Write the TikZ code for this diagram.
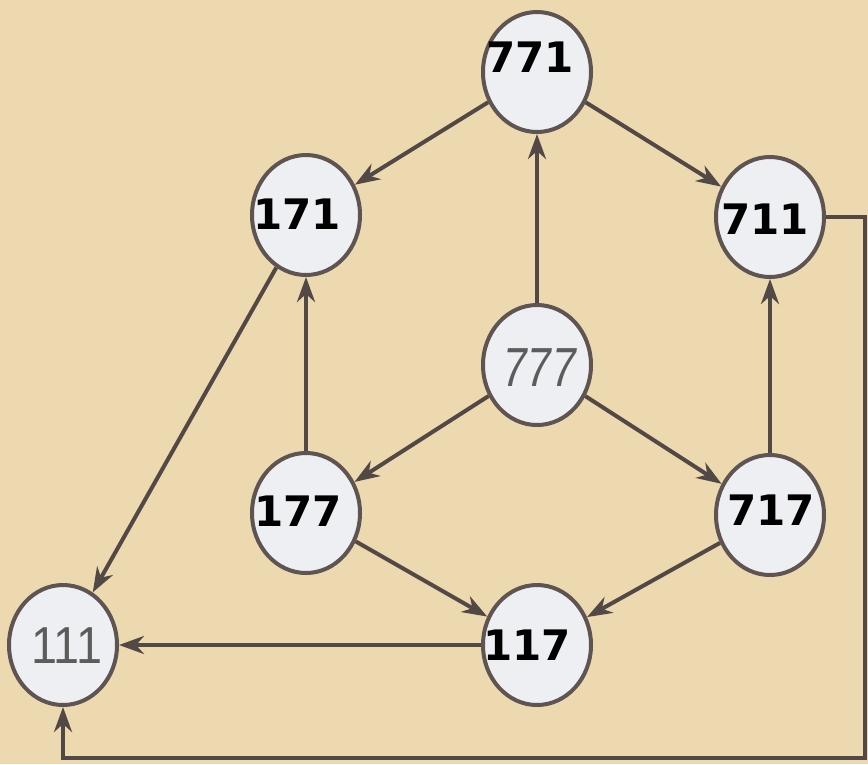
\documentclass[tikz,border=0pt]{standalone}
\usepackage{fontspec}
\setsansfont{DejaVu Sans}
\newfontfamily\grayfont[FakeStretch=0.8,FakeSlant=0.15]{Liberation Sans}
\newfontfamily\grayupfont[FakeStretch=0.9]{Liberation Sans}
\usepackage{tikz}
\usetikzlibrary{arrows.meta,shapes.geometric}
\definecolor{paper}{HTML}{EDD9AF}
\definecolor{disc}{HTML}{EEEFF3}
\definecolor{rim}{HTML}{5E5452}
\definecolor{ink}{HTML}{524846}
\definecolor{faded}{HTML}{5C5C5C}
\tikzset{
  state/.style={ellipse, draw=rim, line width=4pt, fill=disc, minimum width=108pt, minimum height=120pt, inner sep=0pt},
  bold/.style={font=\sffamily\bfseries\fontsize{42}{42}\selectfont, text=black, inner sep=0pt},
  thin/.style={font=\grayfont\fontsize{55}{55}\selectfont, text=faded, inner sep=0pt},
  thinup/.style={font=\grayupfont\fontsize{52}{52}\selectfont, text=faded, inner sep=0pt},
  link/.style={draw=ink, line width=4pt, -{Stealth[length=25pt,width=18pt,inset=8pt]}}
}

\begin{document}
\begin{tikzpicture}[x=1pt,y=-1pt]
\useasboundingbox (0,0) rectangle (868,764);
\fill[paper] (0,0) rectangle (868,764);
\node[state, label={[bold,xshift=-7pt,yshift=15pt]center:771}] (n771) at (537,72) {};
\node[state, label={[bold,xshift=-9pt,yshift=1pt]center:171}] (n171) at (306,215) {};
\node[state, label={[bold,xshift=-5pt,yshift=-2pt]center:711}] (n711) at (770,217) {};
\node[state, label={[thin,yshift=-3pt]center:777}] (n777) at (537,365) {};
\node[state, label={[bold,xshift=-8pt,yshift=2pt]center:177}] (n177) at (306,513) {};
\node[state, label={[bold,xshift=1pt,yshift=5pt]center:717}] (n717) at (770,515) {};
\node[state, label={[bold,xshift=-10pt,yshift=0pt]center:117}] (n117) at (537,645) {};
\node[state, label={[thinup,xshift=4pt,yshift=-1pt]center:111}] (n111) at (63,645) {};
\coordinate (turn) at (865,758);
\draw[link] (n771) -- (n171);
\draw[link] (n771) -- (n711);
\draw[link] (n777) -- (n771);
\draw[link] (n777) -- (n177);
\draw[link] (n777) -- (n717);
\draw[link] (n177) -- (n171);
\draw[link] (n717) -- (n711);
\draw[link] (n171) -- (n111);
\draw[link] (n177) -- (n117);
\draw[link] (n717) -- (n117);
\draw[link] (n117) -- (n111);
\draw[link] (n711) -- (n711 -| turn) -- (turn) -| (n111);
\end{tikzpicture}
\end{document}
